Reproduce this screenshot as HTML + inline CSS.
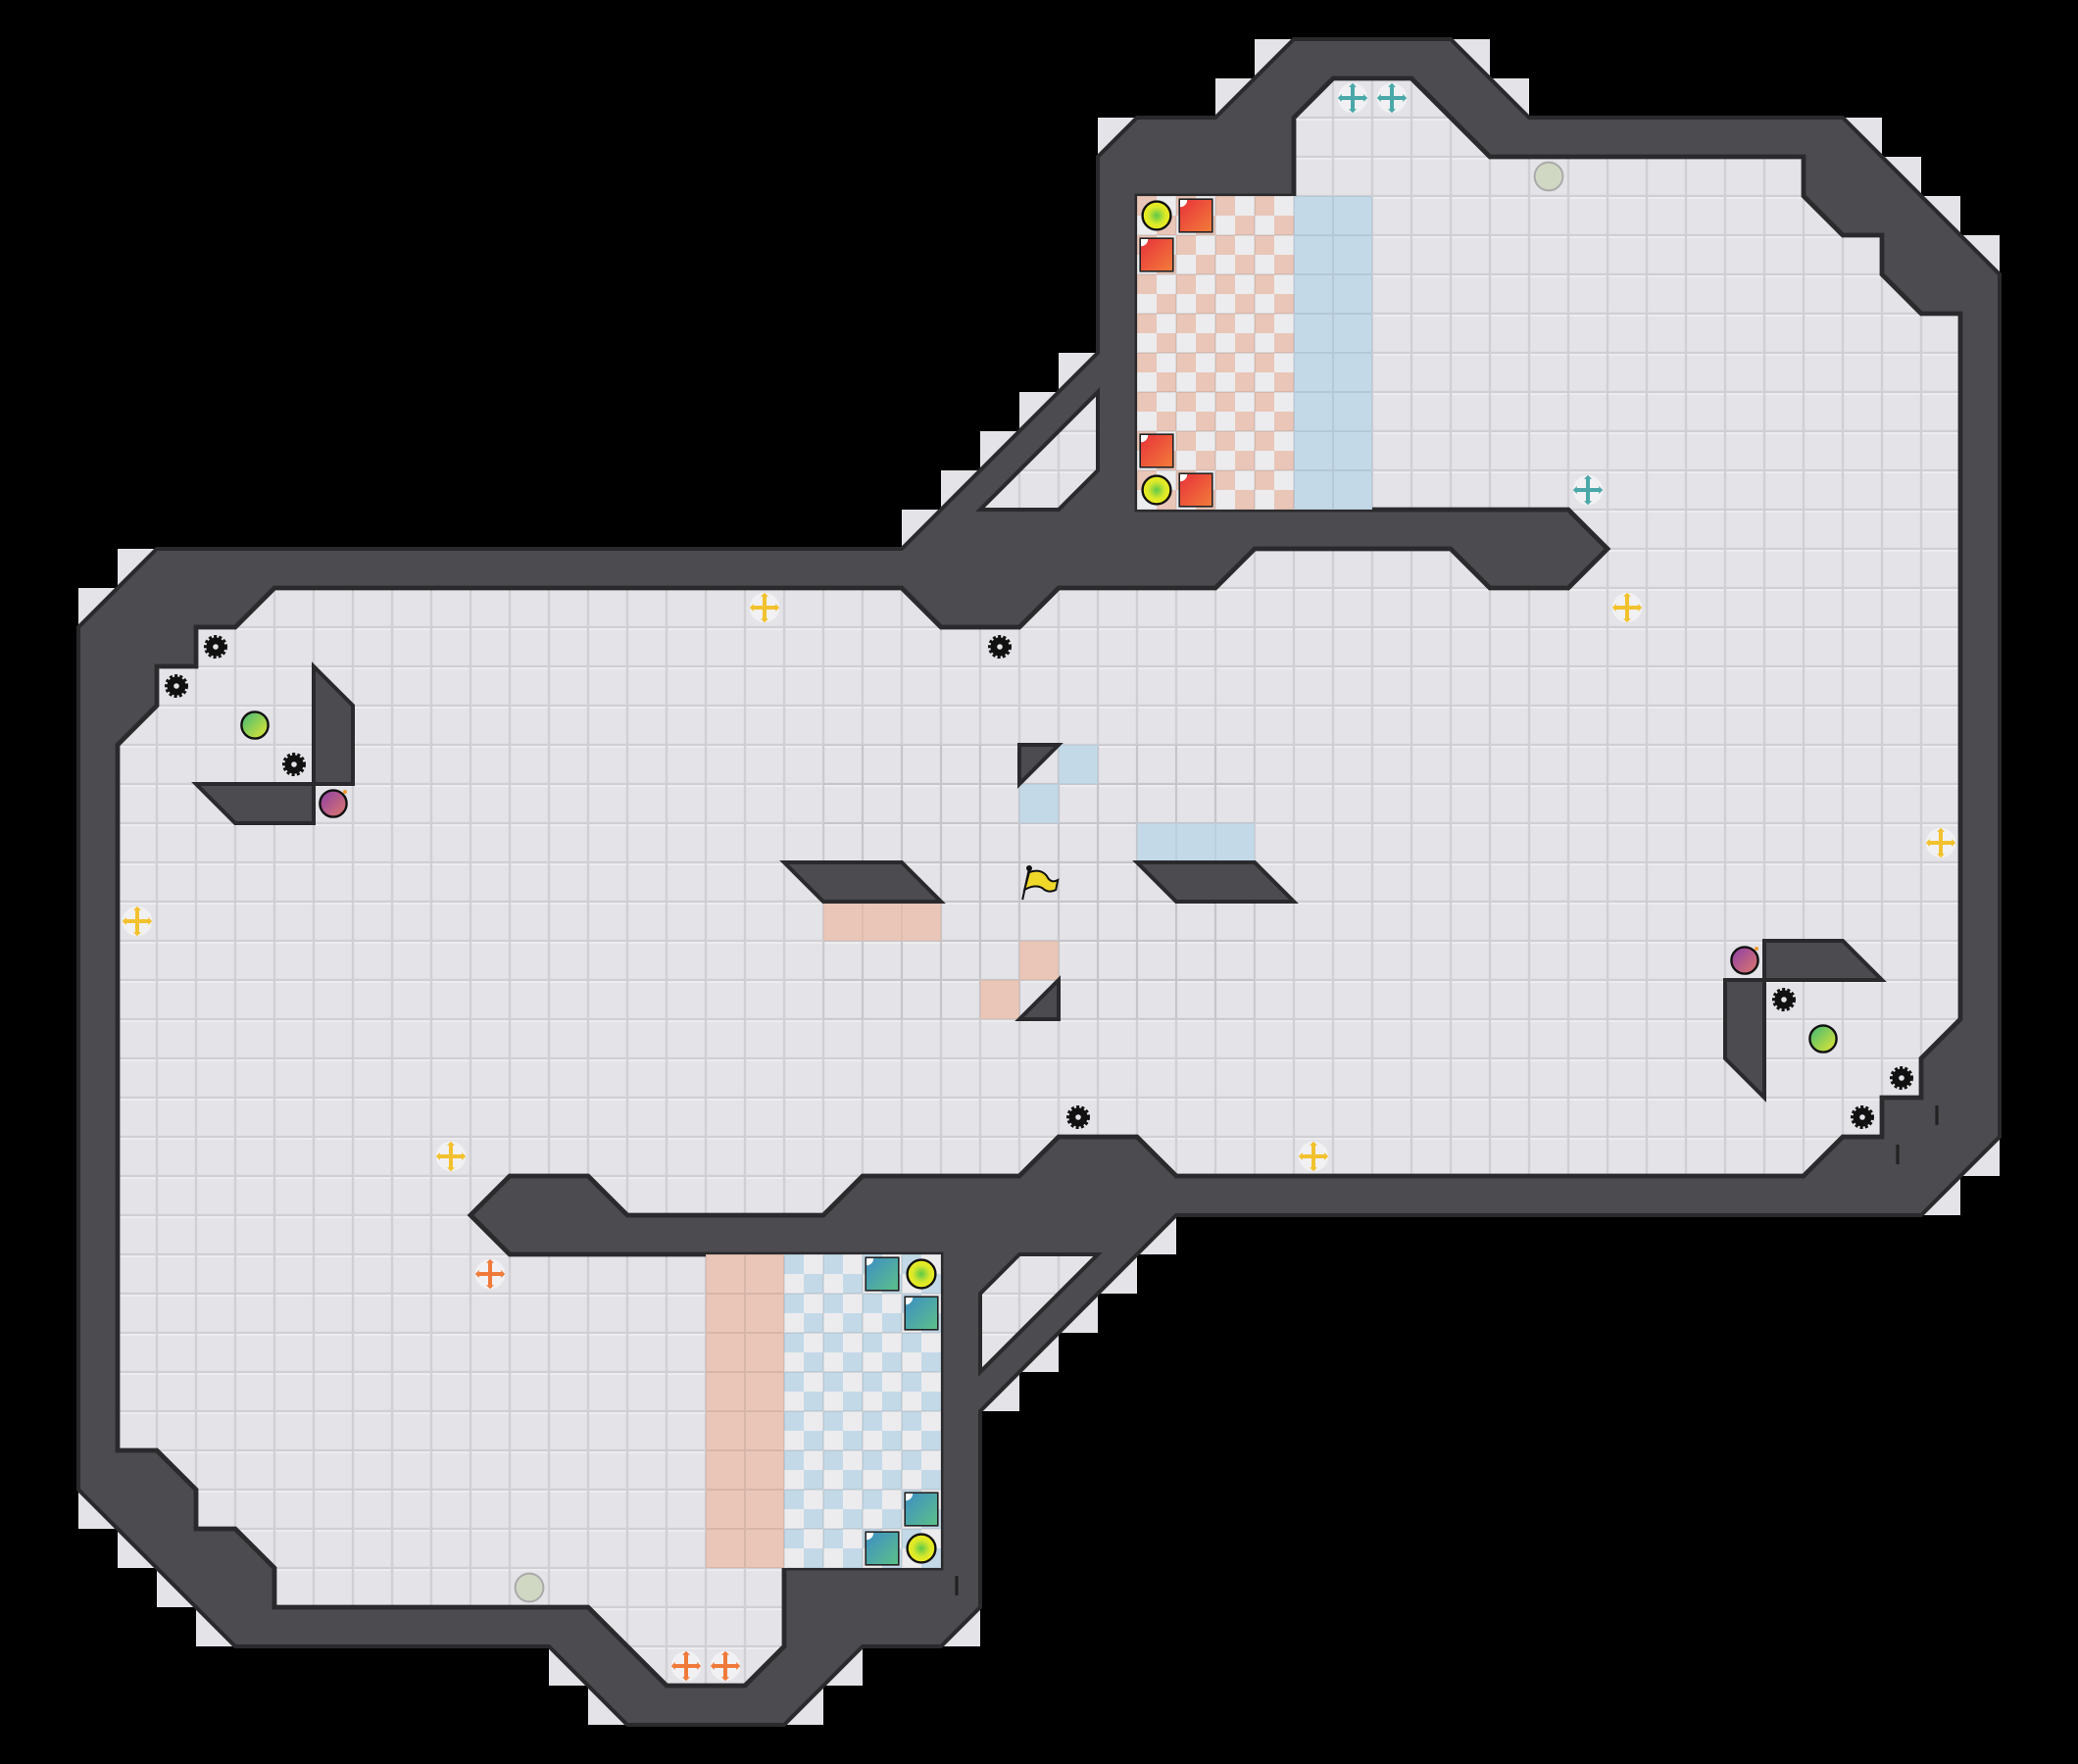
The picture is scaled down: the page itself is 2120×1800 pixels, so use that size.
<!DOCTYPE html>
<html><head><meta charset="utf-8"><style>html,body{margin:0;padding:0;background:#000}svg{display:block}</style></head>
<body>
<svg width="2120" height="1800" viewBox="0 0 53 45" xmlns="http://www.w3.org/2000/svg">
<defs>
<pattern id="g" patternUnits="userSpaceOnUse" width="1" height="1">
<rect width="1" height="1" fill="#cfcfd4"/>
<rect x="0.03" y="0.03" width="0.94" height="0.94" fill="#e3e3e8"/>
<rect x="0.03" y="0.03" width="0.94" height="0.04" fill="#f0f0f3"/>
</pattern>
<pattern id="pc" patternUnits="userSpaceOnUse" width="1" height="1">
<rect width="1" height="1" fill="#ececee"/>
<rect width="0.5" height="0.5" fill="#e9c6b8"/>
<rect x="0.5" y="0.5" width="0.5" height="0.5" fill="#e9c6b8"/>
</pattern>
<pattern id="bc" patternUnits="userSpaceOnUse" width="1" height="1">
<rect width="1" height="1" fill="#ececee"/>
<rect width="0.5" height="0.5" fill="#c4d9e8"/>
<rect x="0.5" y="0.5" width="0.5" height="0.5" fill="#c4d9e8"/>
</pattern>
<pattern id="gl" patternUnits="userSpaceOnUse" width="1" height="1">
<rect width="1" height="1" fill="none" stroke="#000" stroke-opacity="0.08" stroke-width="0.05"/>
</pattern>
<clipPath id="sq"><rect x="-0.4" y="-0.4" width="0.8" height="0.8"/></clipPath>
<radialGradient id="yel"><stop offset="0" stop-color="#5ec94a"/><stop offset="0.6" stop-color="#d8e82a"/><stop offset="1" stop-color="#f0ec20"/></radialGradient>
<linearGradient id="red" x1="0" y1="0" x2="1" y2="1"><stop offset="0" stop-color="#e8333a"/><stop offset="1" stop-color="#f27b3a"/></linearGradient>
<linearGradient id="teal" x1="0" y1="0" x2="1" y2="1"><stop offset="0" stop-color="#3e8fc4"/><stop offset="1" stop-color="#5bbf8a"/></linearGradient>
<linearGradient id="grn" x1="0" y1="0" x2="1" y2="1"><stop offset="0" stop-color="#3cb878"/><stop offset="1" stop-color="#e8e830"/></linearGradient>
<linearGradient id="pur" x1="0" y1="0" x2="1" y2="1"><stop offset="0" stop-color="#8c3ea8"/><stop offset="1" stop-color="#e07a6a"/></linearGradient>
<g id="gear"><circle r="0.24" fill="#111" stroke="#111" stroke-width="0.12" stroke-dasharray="0.07 0.05"/><circle r="0.07" fill="#e3e3e8"/></g>
<g id="plus"><circle r="0.38" fill="#fff" opacity="0.5"/><path d="M-0.05,-0.3h0.1v0.25h0.25v0.1h-0.25v0.25h-0.1v-0.25h-0.25v-0.1h0.25z"/><path d="M0,-0.38l0.1,0.1h-0.2zM0,0.38l0.1,-0.1h-0.2zM-0.38,0l0.1,0.1v-0.2zM0.38,0l-0.1,0.1v-0.2z"/></g>
<g id="yc"><circle r="0.36" fill="url(#yel)" stroke="#111" stroke-width="0.06"/></g>
<g id="rs"><rect x="-0.44" y="-0.44" width="0.88" height="0.88" fill="#222"/><rect x="-0.4" y="-0.4" width="0.8" height="0.8" fill="url(#red)"/><circle cx="-0.4" cy="-0.4" r="0.18" fill="#fff" clip-path="url(#sq)"/></g>
<g id="ts"><rect x="-0.44" y="-0.44" width="0.88" height="0.88" fill="#222"/><rect x="-0.4" y="-0.4" width="0.8" height="0.8" fill="url(#teal)"/><circle cx="-0.4" cy="-0.4" r="0.18" fill="#fff" clip-path="url(#sq)"/></g>
</defs>
<rect width="53" height="45" fill="#000"/>
<g fill="#e3e3e8">
<rect x="3" y="14" width="1" height="1"/><rect x="2" y="15" width="1" height="1"/>
<rect x="2" y="38" width="1" height="1"/><rect x="3" y="39" width="1" height="1"/><rect x="4" y="40" width="1" height="1"/><rect x="5" y="41" width="1" height="1"/>
<rect x="14" y="42" width="1" height="1"/><rect x="15" y="43" width="1" height="1"/><rect x="20" y="43" width="1" height="1"/><rect x="21" y="42" width="1" height="1"/><rect x="24" y="41" width="1" height="1"/>
<rect x="29" y="31" width="1" height="1"/><rect x="28" y="32" width="1" height="1"/><rect x="27" y="33" width="1" height="1"/><rect x="26" y="34" width="1" height="1"/><rect x="25" y="35" width="1" height="1"/>
<rect x="50" y="29" width="1" height="1"/><rect x="49" y="30" width="1" height="1"/>
<rect x="47" y="3" width="1" height="1"/><rect x="48" y="4" width="1" height="1"/><rect x="49" y="5" width="1" height="1"/><rect x="50" y="6" width="1" height="1"/>
<rect x="37" y="1" width="1" height="1"/><rect x="38" y="2" width="1" height="1"/><rect x="32" y="1" width="1" height="1"/><rect x="31" y="2" width="1" height="1"/><rect x="28" y="3" width="1" height="1"/>
<rect x="23" y="13" width="1" height="1"/><rect x="24" y="12" width="1" height="1"/><rect x="25" y="11" width="1" height="1"/><rect x="26" y="10" width="1" height="1"/><rect x="27" y="9" width="1" height="1"/>
</g>
<polygon fill="#4b4b50" stroke="#2a2a2d" stroke-width="0.1" points="4,14 23,14 28,9 28,4 29,3 31,3 33,1 37,1 39,3 47,3 51,7 51,29 49,31 30,31 25,36 25,41 24,42 22,42 20,44 16,44 14,42 6,42 2,38 2,16"/>
<polygon fill="url(#g)" stroke="#2a2a2d" stroke-width="0.12" points="7,15 23,15 24,16 26,16 27,15 31,15 32,14 37,14 38,15 40,15 41,14 40,13 29,13 29,5 33,5 33,3 34,2 36,2 38,4 46,4 46,5 47,6 48,6 48,7 49,8 50,8 50,26 49,27 49,28 48,28 48,29 47,29 46,30 30,30 29,29 27,29 26,30 22,30 21,31 16,31 15,30 13,30 12,31 13,32 24,32 24,40 20,40 20,42 19,43 17,43 15,41 7,41 7,40 6,39 5,39 5,38 4,37 3,37 3,19 4,18 4,17 5,17 5,16 6,16"/>
<polygon fill="url(#g)" stroke="#2a2a2d" stroke-width="0.1" points="25,13 27,13 28,12 28,10"/>
<polygon fill="url(#g)" stroke="#2a2a2d" stroke-width="0.1" points="25,33 26,32 28,32 25,35"/>
<rect x="29" y="5" width="4" height="8" fill="url(#pc)"/>
<rect x="33" y="5" width="2" height="8" fill="#c4d9e8"/>
<rect x="18" y="32" width="2" height="8" fill="#e9c6b8"/>
<rect x="20" y="32" width="4" height="8" fill="url(#bc)"/>
<g fill="#c4d9e8"><rect x="27" y="19" width="1" height="1"/><rect x="26" y="20" width="1" height="1"/><rect x="29" y="21" width="3" height="1"/></g>
<g fill="#e9c6b8"><rect x="21" y="23" width="3" height="1"/><rect x="26" y="24" width="1" height="1"/><rect x="25" y="25" width="1" height="1"/></g>
<rect x="29" y="5" width="6" height="8" fill="url(#gl)"/>
<rect x="18" y="32" width="6" height="8" fill="url(#gl)"/>
<rect x="21" y="19" width="11" height="7" fill="url(#gl)" opacity="0.6"/>
<g fill="#4b4b50" stroke="#2a2a2d" stroke-width="0.1">
<polygon points="8,17 9,18 9,20 8,20"/>
<polygon points="5,20 8,20 8,21 6,21"/>
<polygon points="20,22 23,22 24,23 21,23"/>
<polygon points="29,22 32,22 33,23 30,23"/>
<polygon points="26,19 27,19 26,20"/>
<polygon points="26,26 27,25 27,26"/>
<polygon points="45,24 47,24 48,25 45,25"/>
<polygon points="44,25 45,25 45,28 44,27"/>
</g>
<g stroke="#222" stroke-width="0.08"><line x1="49.4" y1="28.2" x2="49.4" y2="28.7"/><line x1="48.4" y1="29.2" x2="48.4" y2="29.7"/><line x1="24.4" y1="40.2" x2="24.4" y2="40.7"/></g>
<g>
<use href="#gear" x="5.5" y="16.5"/><use href="#gear" x="4.5" y="17.5"/><use href="#gear" x="7.5" y="19.5"/><use href="#gear" x="25.5" y="16.5"/>
<use href="#gear" x="27.5" y="28.5"/><use href="#gear" x="45.5" y="25.5"/><use href="#gear" x="48.5" y="27.5"/><use href="#gear" x="47.5" y="28.5"/>
</g>
<g stroke="#111" stroke-width="0.06">
<circle cx="6.5" cy="18.5" r="0.34" fill="url(#grn)"/><circle cx="46.5" cy="26.5" r="0.34" fill="url(#grn)"/>
<circle cx="8.5" cy="20.5" r="0.34" fill="url(#pur)"/><circle cx="44.5" cy="24.5" r="0.34" fill="url(#pur)"/>
</g>
<g fill="#f29a2e"><circle cx="8.8" cy="20.2" r="0.05"/><circle cx="44.8" cy="24.2" r="0.05"/></g>
<g fill="#f2c12e"><use href="#plus" x="19.5" y="15.5"/><use href="#plus" x="41.5" y="15.5"/><use href="#plus" x="49.5" y="21.5"/><use href="#plus" x="3.5" y="23.5"/><use href="#plus" x="11.5" y="29.5"/><use href="#plus" x="33.5" y="29.5"/></g>
<g fill="#f07a3a"><use href="#plus" x="12.5" y="32.5"/><use href="#plus" x="17.5" y="42.5"/><use href="#plus" x="18.5" y="42.5"/></g>
<g fill="#4aa8a8"><use href="#plus" x="34.5" y="2.5"/><use href="#plus" x="35.5" y="2.5"/><use href="#plus" x="40.5" y="12.5"/></g>
<g fill="#d0d8c4" stroke="#aaa" stroke-width="0.05"><circle cx="39.5" cy="4.5" r="0.36"/><circle cx="13.5" cy="40.5" r="0.36"/></g>
<g stroke="#111" stroke-width="0.05"><line x1="26.08" y1="22.95" x2="26.25" y2="22.15"/><circle cx="26.25" cy="22.15" r="0.05" fill="#111"/><path d="M26.25,22.25 q0.3,-0.1 0.45,0.1 q0.1,0.2 0.28,0.1 l-0.05,0.25 q-0.2,0.1 -0.35,-0.05 q-0.2,-0.1 -0.45,0.05z" fill="#f0d82a"/></g>
<use href="#yc" x="29.5" y="5.5"/><use href="#yc" x="29.5" y="12.5"/>
<use href="#rs" x="30.5" y="5.5"/><use href="#rs" x="29.5" y="6.5"/><use href="#rs" x="29.5" y="11.5"/><use href="#rs" x="30.5" y="12.5"/>
<use href="#ts" x="22.5" y="32.5"/><use href="#ts" x="23.5" y="33.5"/><use href="#ts" x="23.5" y="38.5"/><use href="#ts" x="22.5" y="39.5"/>
<use href="#yc" x="23.5" y="32.5"/><use href="#yc" x="23.5" y="39.5"/>
</svg>
</body></html>
